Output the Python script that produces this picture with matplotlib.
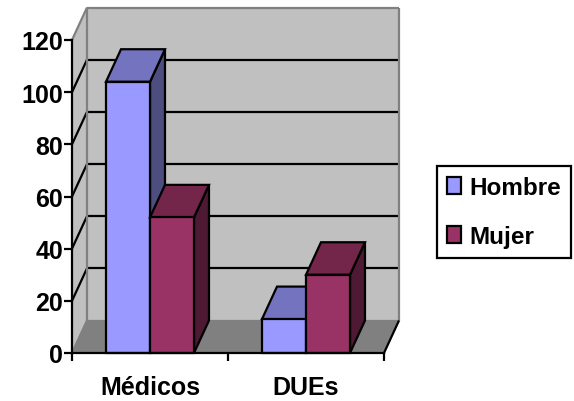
import numpy as np
import matplotlib
matplotlib.use("Agg")
import matplotlib.pyplot as plt
from matplotlib.patches import Polygon, Patch

plt.rcParams["font.family"] = ["Liberation Sans", "DejaVu Sans"]

categories = ["Médicos", "DUEs"]
series_names = ["Hombre", "Mujer"]
hombre = [104, 13]
mujer = [52, 30]
y_ticks = [0, 20, 40, 60, 80, 100, 120]

# face, top, side colours for each series
colors = {
    "Hombre": ("#9999FF", "#7373BF", "#4D4D80"),
    "Mujer": ("#993366", "#732649", "#4D1933"),
}
WALL = "#C0C0C0"
FLOOR = "#808080"
EDGE_GREY = "#808080"

W, H = 574, 402
fig = plt.figure(figsize=(W / 100, H / 100), dpi=100, facecolor="white")
ax = fig.add_axes([72 / W, 1 - 354 / H, 312 / W, 313 / H])
ax.set_xlim(-0.5, 1.5)
ax.set_ylim(0, 120)
ax.set_facecolor("none")

# fake 3d depth, in data units
DX = 15 / 156
DY = 32.5 * 120 / 313
BAR_W = 0.282
LW = 1.6


def poly(pts, fc, ec="black", lw=LW, z=2):
    ax.add_patch(Polygon(pts, closed=True, facecolor=fc, edgecolor=ec, linewidth=lw,
                         joinstyle="miter", clip_on=False, zorder=z))


def line(xs, ys, color="black", lw=LW, z=1.5):
    ax.plot(xs, ys, color=color, lw=lw, clip_on=False, zorder=z, solid_capstyle="butt")


x0, x1 = -0.5, 1.5
top = y_ticks[-1]

# walls and floor
poly([(x0 + DX, DY), (x1 + DX, DY), (x1 + DX, top + DY), (x0 + DX, top + DY)], WALL, "none", 0, 1)
poly([(x0, 0), (x0 + DX, DY), (x0 + DX, top + DY), (x0, top)], WALL, "none", 0, 1)
poly([(x0, 0), (x1, 0), (x1 + DX, DY), (x0 + DX, DY)], FLOOR, "none", 0, 1)

# gridlines run along the back wall and down the side wall
for v in y_ticks[1:-1]:
    line([x0 + DX, x1 + DX], [v + DY, v + DY])
    line([x0, x0 + DX], [v, v + DY])
line([x0, x0 + DX], [top, top + DY], EDGE_GREY)
line([x0 + DX, x1 + DX], [top + DY, top + DY], EDGE_GREY)
line([x0 + DX, x0 + DX], [DY, top + DY], EDGE_GREY)
line([x1 + DX, x1 + DX], [DY, top + DY], EDGE_GREY)
line([x0 + DX, x1 + DX], [DY, DY], EDGE_GREY)
line([x0, x0 + DX], [0, DY], EDGE_GREY)
line([x1, x1 + DX], [0, DY], "black", z=1.6)

# bars, back to front is just left to right here
z = 2
for i in range(len(categories)):
    for j, (name, vals) in enumerate(zip(series_names, [hombre, mujer])):
        face, top_c, side_c = colors[name]
        left = i - BAR_W + j * BAR_W
        right = left + BAR_W
        v = vals[i]
        poly([(right, 0), (right + DX, DY), (right + DX, v + DY), (right, v)], side_c, z=z)
        poly([(left, v), (right, v), (right + DX, v + DY), (left + DX, v + DY)], top_c, z=z)
        poly([(left, 0), (right, 0), (right, v), (left, v)], face, z=z)
        z += 0.1

for side in ["top", "right"]:
    ax.spines[side].set_visible(False)
for side in ["left", "bottom"]:
    ax.spines[side].set_linewidth(LW)
    ax.spines[side].set_zorder(5)

ax.set_yticks(y_ticks)
ax.tick_params(axis="y", length=5.5, width=LW, pad=1, labelsize=18)
ax.set_xticks([-0.5, 0.5, 1.5])
ax.set_xticklabels([])
ax.tick_params(axis="x", length=6, width=LW)
for lab in ax.get_yticklabels():
    lab.set_fontweight("bold")

ax.set_xticks([0, 1], labels=categories, minor=True)
ax.tick_params(axis="x", which="minor", length=0, pad=16, labelsize=18)
for lab in ax.get_xticklabels(minor=True):
    lab.set_fontweight("bold")

handles = [Patch(facecolor=colors[n][0], edgecolor="black", linewidth=LW, label=n) for n in series_names]
leg = fig.legend(handles=handles, loc="center left", bbox_to_anchor=(437 / W, 1 - 213 / H),
                 frameon=True, fancybox=False, edgecolor="black", framealpha=1,
                 prop={"weight": "bold", "size": 17.5}, handlelength=0.58, handleheight=0.7,
                 handletextpad=0.35, labelspacing=1.1, borderpad=0.4, borderaxespad=0)
leg.get_frame().set_linewidth(LW)

fig.savefig("out.png", dpi=100)
